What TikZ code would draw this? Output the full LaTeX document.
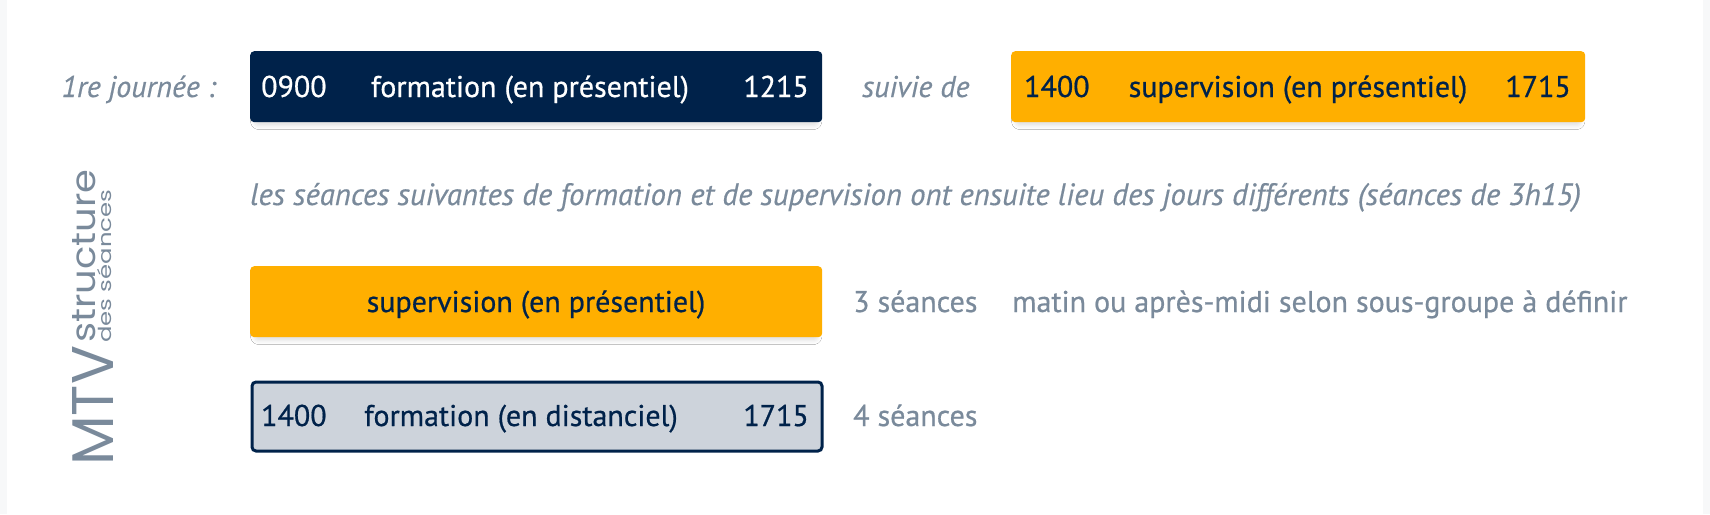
\documentclass[tikz,border=0pt]{standalone}
\usepackage{fontspec}
\setmainfont{PT Sans}[FakeBold=0.6, ItalicFeatures={FakeBold=0.4}]
\newfontfamily\rotfont{Poppins}
\usetikzlibrary{shadows.blur}
\definecolor{navy}{HTML}{00224A}
\definecolor{amber}{HTML}{FFAF00}
\definecolor{slate}{HTML}{7A8A9B}
\definecolor{pale}{HTML}{CDD3DB}
\definecolor{edge}{HTML}{F7F8F9}
\tikzset{
  box/.style={rectangle, rounded corners=4pt, inner sep=0pt, anchor=north west},
  shad/.style={blur shadow={shadow xshift=0pt, shadow yshift=-4pt, shadow blur radius=4pt, shadow opacity=12, shadow scale=0.985}},
  navybox/.style={box, shad, fill=navy},
  amberbox/.style={box, shad, fill=amber},
  palebox/.style={box, fill=pale, draw=navy, line width=3pt},
  boxtxt/.style={inner sep=0pt, font=\fontsize{30}{33}\selectfont},
  note/.style={inner sep=0pt, text=slate, font=\fontsize{30.8}{33}\selectfont\itshape},
  side/.style={inner sep=0pt, text=slate, font=\fontsize{30}{33}\selectfont},
  rot/.style={inner sep=0pt, anchor=base west, rotate=90, text=slate, font=\rotfont\fontsize{40}{40}\selectfont},
}
\begin{document}
\begin{tikzpicture}[x=1pt,y=-1pt]
\useasboundingbox (0,0) rectangle (1710,514);
\fill[edge] (0,0) rectangle (1710,514);
\fill[white] (7,0) rectangle (1703,514);

% rotated title
\node[rot] (mtv) at (113,466) {\resizebox{120pt}{41pt}{MTV}};
\node[rot] (struct) at (95,343) {\resizebox{173pt}{23pt}{structure}};
\node[rot] (des) at (111,343) {\resizebox{153pt}{14pt}{des séances}};

% row 1
\node[note, font=\fontsize{30}{33}\selectfont\itshape, anchor=base east] (j1) at (216,97) {1re journée :};
\node[navybox, minimum width=572pt, minimum height=71pt] (b1) at (250,51) {};
\node[boxtxt, text=white, anchor=base west] (b1a) at (261,97) {0900};
\node[boxtxt, text=white, anchor=base] (b1b) at (530,97) {formation (en présentiel)};
\node[boxtxt, text=white, anchor=base east] (b1c) at (809,97) {1215};
\node[note, font=\fontsize{30}{33}\selectfont\itshape, anchor=base west] (suiv) at (862,97) {suivie de};
\node[amberbox, minimum width=574pt, minimum height=71pt] (b2) at (1011,51) {};
\node[boxtxt, text=navy, anchor=base west] (b2a) at (1024,97) {1400};
\node[boxtxt, text=navy, anchor=base] (b2b) at (1298,97) {supervision (en présentiel)};
\node[boxtxt, text=navy, anchor=base east] (b2c) at (1571,97) {1715};

% note line
\node[note, anchor=base west] (lesseances) at (250,205) {les séances suivantes de formation et de supervision ont ensuite lieu des jours différents (séances de 3h15)};

% row 3
\node[amberbox, minimum width=572pt, minimum height=71pt] (b3) at (250,266) {};
\node[boxtxt, text=navy, anchor=base] (b3a) at (536,312) {supervision (en présentiel)};
\node[side, anchor=base west] (s3) at (853,312) {3 séances};
\node[side, anchor=base west] (m3) at (1012,312) {matin ou après-midi selon sous-groupe à définir};

% row 4
\node[palebox, minimum width=570pt, minimum height=69pt] (b4) at (250.5,380.5) {};
\node[boxtxt, text=navy, anchor=base west] (b4a) at (261,426) {1400};
\node[boxtxt, text=navy, anchor=base] (b4b) at (521,426) {formation (en distanciel)};
\node[boxtxt, text=navy, anchor=base east] (b4c) at (809,426) {1715};
\node[side, anchor=base west] (s4) at (853,426) {4 séances};
\end{tikzpicture}
\end{document}
